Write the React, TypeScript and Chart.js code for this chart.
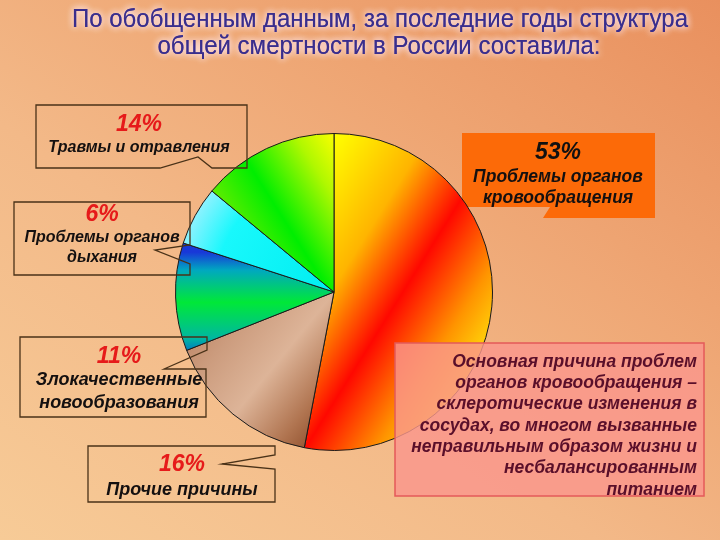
import React, { useEffect, useRef } from 'react';
import { Chart, registerables } from 'chart.js';

Chart.register(...registerables);

// ---- data ----
const categories = [
  'Проблемы органов кровообращения',
  'Прочие причины',
  'Злокачественные новообразования',
  'Проблемы органов дыхания',
  'Травмы и отравления',
];
const shares = [53, 16, 11, 6, 14];
const calloutLines = [
  ['Проблемы органов', 'кровообращения'],
  ['Прочие причины'],
  ['Злокачественные', 'новообразования'],
  ['Проблемы органов', 'дыхания'],
  ['Травмы и отравления'],
];
const titleLines = [
  'По обобщенным данным, за последние годы структура',
  'общей смертности в России составила:',
];
const noteLines = [
  'Основная причина проблем',
  'органов кровообращения –',
  'склеротические изменения в',
  'сосудах, во многом вызванные',
  'неправильным образом жизни и',
  'несбалансированным',
  'питанием',
];

// ---- styling / layout ----
type Stop = [number, string];
type Pt = [number, number];

const sliceGradients: { kind: 'lin' | 'rad'; p: number[]; stops: Stop[] }[] = [
  { kind: 'lin', p: [-0.32, -0.47, 1.1, 0.42], stops: [[0, '#ffff00'], [0.3, '#ffb400'], [0.53, '#ff0800'], [0.76, '#ff9400'], [1, '#ffff10']] },
  { kind: 'lin', p: [-0.81, 0.12, 0.05, 0.82], stops: [[0, '#bf8868'], [0.2, '#cc9c7e'], [0.5, '#ddb498'], [0.8, '#b07450'], [1, '#8a4a28']] },
  { kind: 'lin', p: [0, -0.25, 0, 0.5], stops: [[0, '#1838d8'], [0.15, '#00a8c0'], [0.42, '#00e838'], [0.72, '#00b8a0'], [1, '#0018f8']] },
  { kind: 'rad', p: [0, 1], stops: [[0, '#00eef0'], [0.75, '#18f8fc'], [1, '#8ef2ff']] },
  { kind: 'lin', p: [-0.76, -0.095, 0.2, -0.705], stops: [[0, '#a8f000'], [0.2, '#70ec00'], [0.5, '#00ee00'], [0.8, '#b0f800'], [1, '#ffff00']] },
];

// callout shapes (index into data)
const callouts: { idx: number; poly: Pt[]; pctY: number; cx: number; lineY: number[]; fs: number; fill?: string; pctColor: string; stroke?: string }[] = [
  { idx: 0, poly: [[462, 133], [655, 133], [655, 218], [543, 218], [550, 207], [462, 207]], cx: 558, pctY: 153, lineY: [177, 198], fs: 17.5, fill: '#fc6a08', pctColor: '#111' },
  { idx: 4, poly: [[36, 105], [247, 105], [247, 168], [212, 168], [198, 157], [160, 168], [36, 168]], cx: 139, pctY: 125, lineY: [148], fs: 16, pctColor: '#e61a1a', stroke: '#4a3218' },
  { idx: 3, poly: [[14, 202], [190, 202], [190, 245], [155, 250], [190, 264], [190, 275], [14, 275]], cx: 102, pctY: 215, lineY: [238, 258], fs: 16, pctColor: '#e61a1a', stroke: '#4a3218' },
  { idx: 2, poly: [[20, 337], [207, 337], [207, 350], [164, 369], [206, 369], [206, 417], [20, 417]], cx: 119, pctY: 357, lineY: [380, 403], fs: 18, pctColor: '#e61a1a', stroke: '#4a3218' },
  { idx: 1, poly: [[88, 446], [275, 446], [275, 455], [222, 464], [275, 469], [275, 502], [88, 502]], cx: 182, pctY: 465, lineY: [490], fs: 18, pctColor: '#e61a1a', stroke: '#4a3218' },
];

const FAMILY = '"Liberation Sans", Arial, sans-serif';
const PCT_FONT = `italic bold 23px ${FAMILY}`;
const NOTE_FONT = `italic bold 17.5px ${FAMILY}`;
const TITLE_FONT = '25px "Liberation Sans Narrow", "Arial Narrow", "Liberation Sans", Arial, sans-serif';

function sliceFill(c: any) {
  const chart = c.chart;
  const a = chart.chartArea;
  if (!a) return '#ccc';
  const g = sliceGradients[c.dataIndex];
  const cx = (a.left + a.right) / 2;
  const cy = (a.top + a.bottom) / 2;
  const r = Math.min(a.right - a.left, a.bottom - a.top) / 2;
  const ctx = chart.ctx as CanvasRenderingContext2D;
  let grad: CanvasGradient;
  if (g.kind === 'lin') {
    grad = ctx.createLinearGradient(cx + g.p[0] * r, cy + g.p[1] * r, cx + g.p[2] * r, cy + g.p[3] * r);
  } else {
    grad = ctx.createRadialGradient(cx, cy, g.p[0] * r, cx, cy, g.p[1] * r);
  }
  g.stops.forEach(([o, col]) => grad.addColorStop(o, col));
  return grad;
}

function drawPoly(ctx: CanvasRenderingContext2D, poly: Pt[]) {
  ctx.beginPath();
  poly.forEach(([x, y], i) => (i ? ctx.lineTo(x, y) : ctx.moveTo(x, y)));
  ctx.closePath();
}

function drawCallout(ctx: CanvasRenderingContext2D, co: (typeof callouts)[number]) {
  ctx.save();
  drawPoly(ctx, co.poly);
  if (co.fill) {
    ctx.fillStyle = co.fill;
    ctx.fill();
  }
  if (co.stroke) {
    ctx.strokeStyle = co.stroke;
    ctx.lineWidth = 1.3;
    ctx.stroke();
  }
  ctx.textAlign = 'center';
  ctx.textBaseline = 'middle';
  ctx.font = PCT_FONT;
  ctx.fillStyle = co.pctColor;
  ctx.fillText(`${shares[co.idx]}%`, co.cx, co.pctY);
  ctx.font = `italic bold ${co.fs}px ${FAMILY}`;
  ctx.fillStyle = '#141010';
  calloutLines[co.idx].forEach((t, i) => ctx.fillText(t, co.cx, co.lineY[i]));
  ctx.restore();
}

const decor = {
  id: 'decor',
  beforeDatasetsDraw(chart: any) {
    const ctx = chart.ctx as CanvasRenderingContext2D;
    drawCallout(ctx, callouts[0]);
  },
  afterDraw(chart: any) {
    const ctx = chart.ctx as CanvasRenderingContext2D;
    // title
    const targets = [
      { cx: 380, cy: 20, w: 616 },
      { cx: 379, cy: 47, w: 443 },
    ];
    ctx.save();
    ctx.font = TITLE_FONT;
    ctx.textAlign = 'center';
    ctx.textBaseline = 'middle';
    titleLines.forEach((t, i) => {
      const tg = targets[i];
      const m = ctx.measureText(t).width;
      const sx = tg.w / m;
      ctx.save();
      ctx.translate(tg.cx, tg.cy);
      ctx.scale(sx, 1);
      ctx.shadowColor = 'rgba(255,238,250,1)';
      ctx.shadowBlur = 7;
      ctx.fillStyle = '#3a2e8c';
      ctx.fillText(t, 0, 0);
      ctx.fillText(t, 0, 0);
      ctx.restore();
    });
    ctx.restore();

    // callouts
    for (let i = 1; i < callouts.length; i++) drawCallout(ctx, callouts[i]);

    // note box
    ctx.save();
    ctx.fillStyle = 'rgba(250,150,140,0.82)';
    ctx.fillRect(395, 343, 309, 153);
    ctx.strokeStyle = '#e45a5a';
    ctx.lineWidth = 1.5;
    ctx.strokeRect(395, 343, 309, 153);
    ctx.font = NOTE_FONT;
    ctx.fillStyle = '#5a0f2a';
    ctx.textAlign = 'right';
    ctx.textBaseline = 'middle';
    noteLines.forEach((t, i) => ctx.fillText(t, 697, 362 + i * 21.3));
    ctx.restore();
  },
};

export default function App() {
  const ref = useRef<HTMLCanvasElement>(null);
  useEffect(() => {
    const canvas = ref.current!;
    const chart = new Chart(canvas, {
      type: 'pie',
      data: {
        labels: categories,
        datasets: [
          {
            data: shares,
            backgroundColor: (c: any) => sliceFill(c),
            borderColor: '#1a1a1a',
            borderWidth: 1,
          },
        ],
      },
      options: {
        responsive: false,
        animation: false,
        layout: { padding: { left: 175, right: 227, top: 133, bottom: 89 } },
        plugins: { legend: { display: false }, tooltip: { enabled: false } },
      },
      plugins: [decor],
    } as any);
    return () => chart.destroy();
  }, []);
  return (
    <div
      style={{
        position: 'absolute',
        left: 0,
        top: 0,
        width: 720,
        height: 540,
        background: 'linear-gradient(35deg, #f7cb97 0%, #f3b988 40%, #eea472 70%, #e9905e 100%)',
      }}
    >
      <canvas ref={ref} width={720} height={540} style={{ display: 'block' }} />
    </div>
  );
}
